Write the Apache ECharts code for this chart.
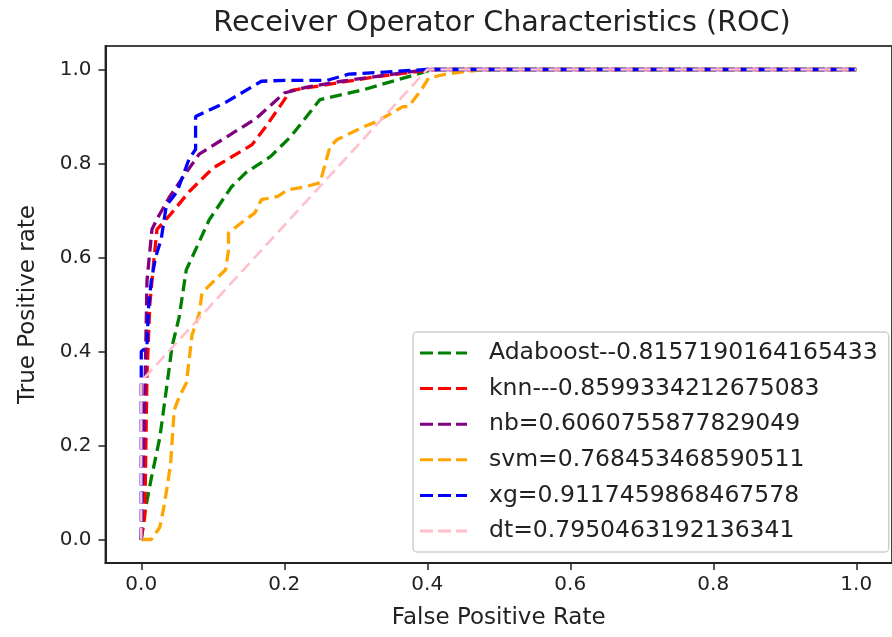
<!DOCTYPE html>
<html>
<head>
<meta charset="utf-8">
<script src="https://cdn.jsdelivr.net/npm/echarts@6/dist/echarts.min.js"></script>
<style>
  html, body { margin: 0; padding: 0; background: #fff; }
  #chart { width: 892px; height: 637px; }
</style>
</head>
<body>
<div id="chart"></div>
<script>
// ROC curves: false positive rate (x) vs true positive rate (y) per model
const tickValues = [0.0, 0.2, 0.4, 0.6, 0.8, 1.0];

const adaFpr = [0.000, 0.004, 0.014, 0.026, 0.035, 0.043, 0.053, 0.063, 0.071, 0.095, 0.126, 0.146, 0.181, 0.209, 0.250, 0.311, 0.374, 0.408, 1.000];
const adaTpr = [0.000, 0.050, 0.130, 0.217, 0.318, 0.410, 0.473, 0.574, 0.600, 0.680, 0.750, 0.780, 0.815, 0.857, 0.936, 0.957, 0.985, 1.000, 1.000];

const knnFpr = [0.000, 0.005, 0.008, 0.012, 0.018, 0.022, 0.040, 0.067, 0.100, 0.155, 0.175, 0.209, 0.260, 0.330, 0.410, 1.000];
const knnTpr = [0.000, 0.050, 0.350, 0.500, 0.600, 0.660, 0.690, 0.740, 0.790, 0.840, 0.880, 0.955, 0.968, 0.985, 1.000, 1.000];

const nbFpr = [0.000, 0.005, 0.008, 0.015, 0.025, 0.040, 0.058, 0.081, 0.123, 0.160, 0.200, 0.230, 0.280, 0.400, 1.000];
const nbTpr = [0.000, 0.300, 0.550, 0.660, 0.690, 0.730, 0.770, 0.820, 0.860, 0.895, 0.950, 0.962, 0.975, 1.000, 1.000];

const svmFpr = [0.000, 0.014, 0.026, 0.032, 0.037, 0.041, 0.043, 0.046, 0.053, 0.063, 0.067, 0.071, 0.081, 0.085, 0.099, 0.118, 0.122, 0.122, 0.140, 0.159, 0.168, 0.191, 0.205, 0.228, 0.250, 0.264, 0.274, 0.311, 0.329, 0.366, 0.374, 0.393, 0.402, 0.426, 0.450, 0.480, 1.000];
const svmTpr = [0.000, 0.000, 0.026, 0.072, 0.120, 0.160, 0.205, 0.275, 0.303, 0.333, 0.382, 0.435, 0.480, 0.525, 0.546, 0.574, 0.616, 0.652, 0.674, 0.695, 0.723, 0.730, 0.744, 0.750, 0.759, 0.836, 0.851, 0.878, 0.889, 0.921, 0.921, 0.960, 0.982, 0.990, 0.995, 1.000, 1.000];

const xgFpr = [0.000, 0.000, 0.008, 0.010, 0.014, 0.020, 0.028, 0.035, 0.050, 0.067, 0.076, 0.076, 0.118, 0.168, 0.200, 0.260, 0.290, 0.400, 1.000];
const xgTpr = [0.000, 0.400, 0.410, 0.490, 0.550, 0.600, 0.640, 0.710, 0.740, 0.810, 0.830, 0.900, 0.930, 0.975, 0.977, 0.977, 0.990, 1.000, 1.000];

const dtFpr = [0.000, 0.000, 0.005, 0.400, 1.000];
const dtTpr = [0.000, 0.330, 0.345, 1.000, 1.000];

const seriesNames = [
  'Adaboost--0.8157190164165433',
  'knn---0.8599334212675083',
  'nb=0.6060755877829049',
  'svm=0.768453468590511',
  'xg=0.9117459868467578',
  'dt=0.7950463192136341'
];
const seriesColors = ['#008000', '#ff0000', '#800080', '#ffa500', '#0000ff', '#ffc0cb'];
const seriesWidths = [3.3, 3.3, 3.3, 3.3, 3.3, 2.6];
const fprList = [adaFpr, knnFpr, nbFpr, svmFpr, xgFpr, dtFpr];
const tprList = [adaTpr, knnTpr, nbTpr, svmTpr, xgTpr, dtTpr];

const FONT = 'DejaVu Sans';
const chart = echarts.init(document.getElementById('chart'), null, { renderer: 'canvas' });

const series = seriesNames.map((name, i) => ({
  name: name,
  type: 'line',
  data: fprList[i].map((x, j) => [x, tprList[i][j]]),
  symbol: 'none',
  showSymbol: false,
  animation: false,
  lineStyle: { color: seriesColors[i], width: seriesWidths[i], type: [12, 6] },
  itemStyle: { color: seriesColors[i] },
  z: 2 + i
}));

// three short dashes used as the legend handle
const dashIcon = 'path://M0,0H13V3H0Z M18,0H31V3H18Z M36,0H47V3H36Z';

const axisCommon = {
  type: 'value',
  min: -0.05,
  max: 1.05,
  splitLine: { show: false },
  axisLine: { show: true, onZero: false, lineStyle: { color: '#222', width: 2 } },
  axisTick: { show: true, inside: false, length: 7, customValues: tickValues, lineStyle: { color: '#222', width: 1.5 } },
  axisLabel: {
    customValues: tickValues,
    formatter: v => v.toFixed(1),
    fontFamily: FONT, fontSize: 20, color: '#222'
  },
  nameLocation: 'middle',
  nameTextStyle: { fontFamily: FONT, fontSize: 23, color: '#222' }
};

chart.setOption({
  backgroundColor: '#fff',
  animation: false,
  graphic: [{
    type: 'text',
    x: 502,
    y: 24,
    style: {
      text: 'Receiver Operator Characteristics (ROC)',
      font: '28.6px "DejaVu Sans"',
      fill: '#222',
      align: 'center',
      verticalAlign: 'middle'
    }
  }],
  grid: {
    left: 105.5, top: 46, width: 797, height: 517,
    show: true, borderColor: '#444', borderWidth: 2, backgroundColor: '#fff'
  },
  xAxis: Object.assign({}, axisCommon, {
    name: 'False Positive Rate', nameGap: 44,
    axisLabel: Object.assign({}, axisCommon.axisLabel, { margin: 12 })
  }),
  yAxis: Object.assign({}, axisCommon, {
    name: 'True Positive rate', nameGap: 66,
    axisLabel: Object.assign({}, axisCommon.axisLabel, { margin: 14 })
  }),
  legend: {
    orient: 'vertical',
    left: 413, top: 332,
    padding: [9, 11, 9, 7],
    icon: dashIcon,
    itemWidth: 47, itemHeight: 3, itemGap: 11.6,
    backgroundColor: 'rgba(255,255,255,0.85)',
    borderColor: '#d0d0d0', borderWidth: 1.5, borderRadius: 4,
    textStyle: { fontFamily: FONT, fontSize: 23.5, color: '#222', padding: [0, 0, 0, 17] },
    data: seriesNames
  },
  series: series
});
</script>
</body>
</html>
